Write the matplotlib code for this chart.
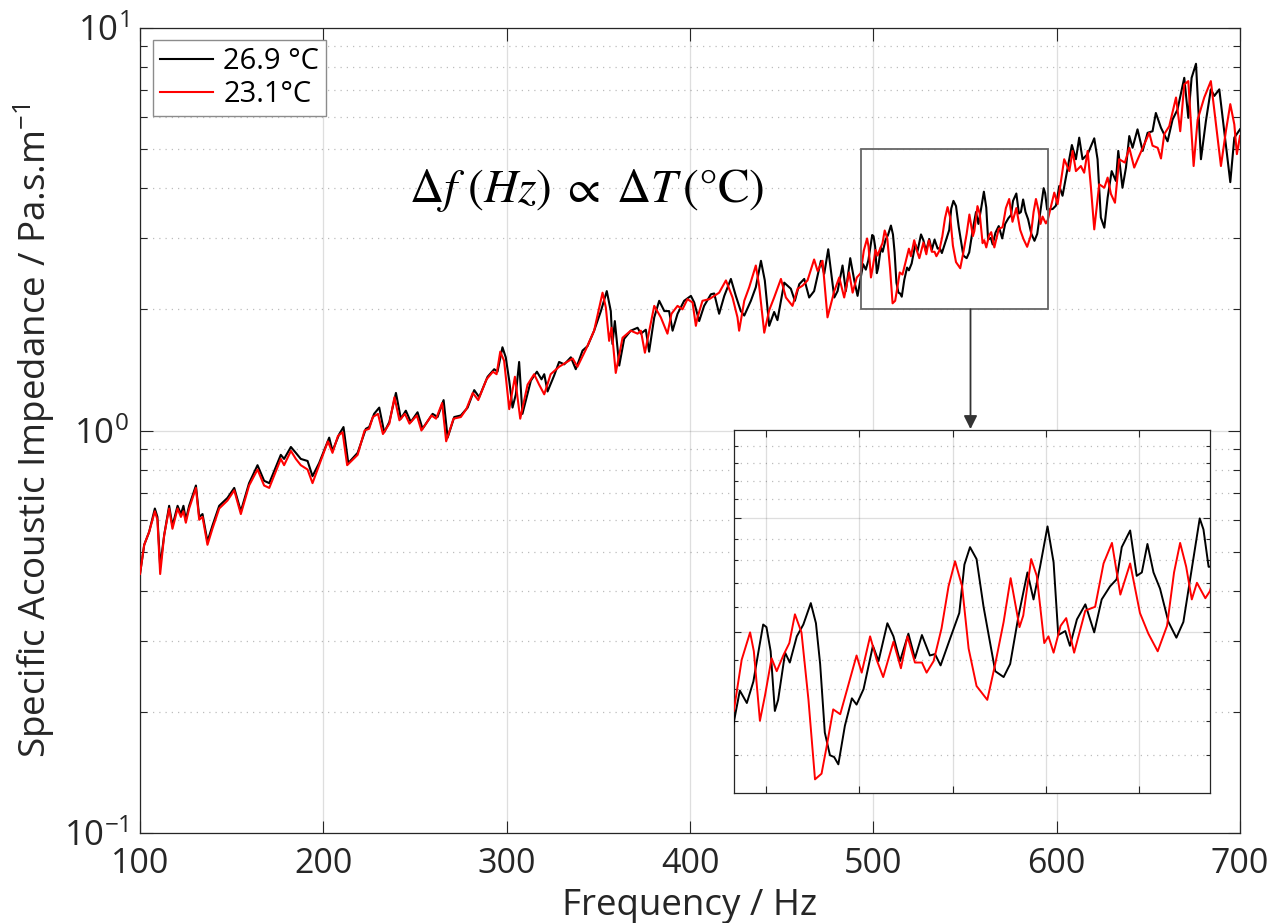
import matplotlib
matplotlib.use("Agg")
import matplotlib.pyplot as plt
from matplotlib.ticker import FixedLocator, NullFormatter, FixedFormatter
from matplotlib.patches import Rectangle

plt.rcParams['font.family'] = ['Open Sans', 'DejaVu Sans']
plt.rcParams['mathtext.fontset'] = 'custom'
plt.rcParams['mathtext.rm'] = 'Open Sans'
plt.rcParams['mathtext.it'] = 'Open Sans:italic'
plt.rcParams['mathtext.bf'] = 'Open Sans:bold'

# ---------------- data ----------------
freq_black = [100, 102.3, 105, 108.1, 109.5, 111, 113.2, 115.9, 117.7, 120.5, 122.3, 123.7, 125, 126.8,
              130.5, 132.3, 134.1, 136.8, 139.5, 143.2, 147.7, 151.4, 155, 159.5, 164.1, 167.7, 170.5,
              176.8, 178.6, 182.3, 185, 187.7, 191.4, 194.1, 197.7,
              203.2, 205, 208.7, 211, 213.6, 218.7, 223.2, 225, 227.7, 230.5, 233.2, 236, 239.6, 242.3,
              245, 247.7, 251.4, 254.1, 259.6, 262.3, 265.6, 267.8, 271.4, 275, 278.7, 282.3, 285,
              289.6, 293.2, 295,
              297.7, 299.5, 301.4, 303.2, 305, 306.8, 308.6, 313.2, 316.5, 319, 320.5, 322.3, 325.9,
              328.6, 331.4, 335, 337.7, 341.4, 344.1, 347.7, 351.4, 354.6, 356.8, 357.7, 359, 361.4,
              364.1, 367.7, 371.4, 373.2, 375.9, 377.7, 380.5, 383.2, 386, 388.6, 390.5, 393.2,
              396.8, 400.5, 402.3, 405, 407.7, 411.4, 413.2, 415.9, 418.7, 422.3, 425, 427.7, 429.6,
              433.2, 435.9, 438.7, 440.8, 443.2, 445.9, 447.7, 451.4, 455, 457.2, 459.6, 462.3, 465,
              467.7, 471.4, 473.2, 475.4, 478.7, 480.5, 483.2, 485, 487.4, 489.6, 491.4,
              493.1, 494.4, 495.9, 497.3, 498.4, 499.4, 500.1, 501.0, 501.9, 502.6, 504.1, 505.1,
              506.6, 508.0, 509.6, 510.7, 511.6, 512.6, 513.7, 514.6, 515.5, 516.9, 518.4, 519.4,
              520.9, 522.9, 524.1, 526.0, 527.3, 528.7, 530.5, 531.9, 533.4, 535.1, 536.2, 537.4,
              539.4, 541.4, 542.5, 543.7, 545.1, 546.6, 547.6, 549.1, 550.9, 552.3, 554.1, 556.0,
              557.3, 558.7, 560.3, 561.6, 562.6, 564.1, 565.1, 566.6, 568.4, 570.3, 571.9, 573.7,
              575.1, 576.2, 578.0, 579.4, 580.5, 581.7, 583.0, 584.4, 586.2, 587.9, 589.4, 591.2,
              592.9, 593.7, 594.8,
              597.8, 599.6, 601.4, 603.2, 606.0, 608.3, 610.5, 612.3, 614.1, 616.9, 620.5, 622.3,
              624.1, 626.0, 627.8, 630.0, 632.3, 633.6, 635.9, 637.8, 639.6, 641.4, 644.1, 646.9,
              649.6, 652.3, 654.1, 656.9, 660.5, 663.2, 665.9, 669.6, 671.8, 673.6, 676.0, 678.7,
              681.4, 684.1, 686.0, 688.7, 691.4, 694.7, 696.9, 700.0]
imp_black = [0.44, 0.52, 0.56, 0.64, 0.61, 0.46, 0.55, 0.65, 0.58, 0.65, 0.62, 0.65, 0.60, 0.65,
             0.73, 0.61, 0.62, 0.53, 0.58, 0.65, 0.68, 0.72, 0.63, 0.74, 0.82, 0.75, 0.74,
             0.87, 0.85, 0.91, 0.88, 0.85, 0.84, 0.77, 0.83,
             0.96, 0.89, 0.98, 1.02, 0.83, 0.88, 1.01, 1.02, 1.10, 1.14, 0.99, 1.05, 1.24, 1.07,
             1.12, 1.05, 1.11, 1.01, 1.10, 1.08, 1.19, 0.96, 1.08, 1.09, 1.14, 1.26, 1.21,
             1.36, 1.42, 1.40,
             1.61, 1.52, 1.33, 1.14, 1.23, 1.48, 1.10, 1.33, 1.40, 1.34, 1.38, 1.25, 1.37,
             1.48, 1.46, 1.52, 1.42, 1.58, 1.62, 1.77, 1.98, 2.22, 1.98, 1.64, 1.87, 1.45,
             1.69, 1.77, 1.80, 1.74, 1.78, 1.57, 1.91, 2.10, 1.98, 1.98, 1.77, 1.95,
             2.10, 2.16, 2.08, 1.87, 2.04, 2.18, 2.19, 1.95, 2.16, 2.38, 2.16, 1.98, 1.93,
             2.10, 2.27, 2.64, 2.36, 1.82, 1.97, 1.88, 2.33, 2.25, 2.10, 2.31, 2.38, 2.14,
             2.22, 2.64, 2.45, 2.82, 2.14, 2.22, 2.57, 2.22, 2.68, 2.36, 2.16,
             2.39, 2.59, 2.51, 2.65, 2.86, 3.06, 3.04, 2.86, 2.46, 2.53, 2.85, 2.78,
             2.97, 3.06, 3.23, 3.07, 2.77, 2.33, 2.20, 2.19, 2.15, 2.37, 2.54, 2.50,
             2.60, 2.90, 2.79, 3.07, 2.97, 2.79, 2.99, 2.81, 2.98, 2.83, 2.84, 2.76,
             2.95, 3.15, 3.56, 3.72, 3.61, 3.20, 3.00, 2.72, 2.68, 2.77, 3.13, 3.49,
             3.26, 3.54, 3.92, 3.58, 2.98, 3.01, 2.90, 3.10, 3.22, 3.00, 3.26, 3.37,
             3.43, 3.72, 3.88, 3.46, 3.49, 3.75, 3.49, 3.35, 3.08, 2.96, 3.08, 3.52,
             4.00, 3.89, 3.54,
             3.55, 3.62, 4.05, 3.83, 4.50, 5.12, 4.72, 5.34, 4.72, 4.86, 5.32, 4.72,
             3.38, 3.19, 3.79, 4.41, 4.17, 4.95, 4.01, 4.50, 5.39, 5.04, 5.60, 4.95,
             5.49, 5.54, 6.15, 5.65, 5.23, 5.92, 6.27, 7.52, 5.98, 7.52, 8.15, 4.72,
             5.87, 7.04, 6.78, 7.04, 5.54, 4.14, 5.34, 5.60]

freq_red = [100, 102.3, 105, 108.1, 109.5, 111, 113.2, 115.9, 117.7, 120.5, 122.3, 123.7, 125, 126.8,
            130.5, 132.3, 134.1, 136.8, 139.5, 143.2, 147.7, 151.4, 155, 159.5, 164.1, 167.7, 170.5,
            176.8, 178.6, 182.3, 185, 187.7, 191.4, 194.1, 197.7,
            202.5, 205, 208, 210.5, 213, 218.7, 222.5, 225, 227, 229.8, 232.5, 236, 238.8, 241.5,
            244.5, 247, 251, 253.5, 259, 261.5, 264.8, 267, 271, 275, 278, 281.5, 284.5, 289,
            292.5, 294.5,
            296.5, 298.6, 301.4, 304.5, 307.4, 311.4, 315.0, 317.7, 320.5, 324.0, 328.6, 336.0,
            338.6, 343.2, 347.7, 352.3, 354.1, 355.9, 357.2, 359.5, 363.2, 367.7, 371.4, 373.2,
            375.4, 380.5, 384.1, 387.7, 389.9, 393.2, 395.9, 398.6, 401.4, 403.2,
            404.1, 406.8, 410.5, 413.2, 415.9, 419.6, 423.2, 425.9, 426.8, 429.6, 432.3, 435.9,
            437.7, 440.5, 443.2, 445.9, 449.6, 452.3, 455.9, 458.7, 461.4, 464.1, 467.7, 469.6,
            472.3, 475.0, 478.7, 481.4, 484.1, 486.8, 488.7, 491.0,
            493.1, 494.8, 496.6, 497.4, 498.7, 499.8, 501.2, 502.3, 503.7, 505.0, 506.2, 507.6,
            509.1, 510.5, 511.9, 513.0, 514.4, 515.9, 517.3, 519.4, 520.5, 522.3, 523.7, 525.1,
            527.3, 528.9, 530.3, 531.9, 533.4, 534.4, 535.9, 537.6, 539.1, 540.5, 542.0, 543.4,
            545.1, 547.4, 549.1, 550.9, 552.4, 554.3, 555.1, 556.8, 558.0, 559.6, 560.5, 561.6,
            563.1, 564.3, 566.0, 568.4, 570.5, 572.3, 574.1, 575.9, 578.0, 580.1, 581.9, 583.9,
            585.9, 587.4, 588.7, 590.0, 591.2, 592.3, 594.1, 595.1,
            598.7, 600.5, 604.1, 606.9, 608.7, 610.5, 613.2, 615.0, 616.9, 618.7, 620.5, 623.2,
            626.0, 627.8, 629.6, 631.8, 634.1, 637.2, 639.6, 642.3, 645.0, 647.8, 650.5, 652.3,
            655.1, 656.9, 658.7, 661.4, 665.1, 667.4, 669.6, 671.8, 674.7, 676.9, 680.5, 684.1,
            686.9, 689.6, 692.3, 694.7, 696.9, 698.3, 700.0]
imp_red = [0.44, 0.52, 0.56, 0.63, 0.60, 0.44, 0.55, 0.64, 0.57, 0.64, 0.61, 0.63, 0.59, 0.64,
           0.72, 0.60, 0.61, 0.52, 0.57, 0.64, 0.67, 0.71, 0.62, 0.73, 0.80, 0.73, 0.72,
           0.85, 0.82, 0.89, 0.85, 0.82, 0.80, 0.74, 0.82,
           0.94, 0.88, 0.97, 0.99, 0.82, 0.87, 1.00, 1.01, 1.08, 1.10, 0.98, 1.04, 1.21, 1.06,
           1.10, 1.04, 1.09, 1.00, 1.09, 1.07, 1.17, 0.94, 1.07, 1.08, 1.13, 1.24, 1.19, 1.34,
           1.40, 1.38,
           1.57, 1.49, 1.13, 1.36, 1.07, 1.30, 1.38, 1.30, 1.23, 1.38, 1.44, 1.51,
           1.44, 1.59, 1.77, 2.20, 2.02, 1.67, 1.80, 1.39, 1.70, 1.77, 1.74, 1.77,
           1.56, 2.04, 1.91, 1.74, 1.95, 2.04, 2.00, 2.12, 2.08, 1.82,
           1.91, 2.10, 2.12, 2.16, 2.20, 2.36, 2.14, 1.91, 1.77, 2.10, 2.27, 2.57,
           2.29, 1.75, 1.99, 2.14, 2.38, 2.14, 2.04, 2.25, 2.29, 2.36, 2.66, 2.49,
           2.64, 1.91, 2.22, 2.40, 2.14, 2.47, 2.20, 2.40,
           2.46, 2.80, 3.00, 2.86, 2.40, 2.56, 2.81, 2.72, 2.83, 2.92, 3.14, 3.00,
           2.53, 2.07, 2.10, 2.25, 2.47, 2.44, 2.59, 2.83, 2.71, 2.97, 2.80, 2.68,
           2.93, 2.74, 2.97, 2.78, 2.78, 2.71, 2.79, 3.03, 3.37, 3.59, 3.37, 2.88,
           2.62, 2.53, 2.77, 3.08, 3.44, 3.04, 3.13, 3.61, 3.46, 2.92, 2.97, 2.85,
           3.05, 3.11, 2.85, 3.17, 3.20, 3.57, 3.76, 3.30, 3.57, 3.15, 2.99, 2.86,
           3.05, 3.49, 3.76, 3.54, 3.26, 3.40, 3.27, 3.33,
           3.90, 3.65, 4.72, 4.41, 4.95, 4.41, 4.54, 4.37, 4.95, 4.01, 3.16, 4.09,
           4.01, 4.25, 3.87, 3.68, 4.72, 4.63, 5.04, 4.50, 4.81, 5.14, 5.49, 5.10,
           5.04, 4.74, 5.45, 5.70, 6.72, 5.54, 7.24, 7.38, 4.54, 5.92, 6.72, 7.38,
           5.76, 4.54, 5.54, 6.47, 5.76, 4.86, 5.39]

series_labels = ['26.9 °C', '23.1°C']
x_ticks = [100, 200, 300, 400, 500, 600, 700]
y_ticks = [0.1, 1, 10]
y_ticklabels = [r'$10^{-1}$', r'$10^{0}$', r'$10^{1}$']
zoom_x = [493.15, 595.1]
zoom_y = [2.0, 5.0]
inset_xgrid = [500, 520, 540, 560, 580]
inset_ymajor = [3, 4]
inset_yminor = [2.2, 2.4, 2.6, 2.8, 3.2, 3.4, 3.6, 3.8, 4.2, 4.4, 4.6, 4.8]
arrow_x = 553
annotation = r'$\Delta f\ (Hz)\;\propto\;\Delta T\,(\degree\mathrm{C})$'

# ---------------- figure ----------------
AX_COL = '#262626'
W, H = 1274, 923
fig = plt.figure(figsize=(W / 100, H / 100), dpi=100)
fig.patch.set_facecolor('white')

ax = fig.add_axes([140 / W, 1 - 833 / H, 1100 / W, 805 / H])
ax.plot(freq_black, imp_black, color='black', lw=1.5, label=series_labels[0], zorder=3)
ax.plot(freq_red, imp_red, color='#ff0000', lw=1.5, label=series_labels[1], zorder=3)
ax.set_yscale('log')
ax.set_xlim(100, 700)
ax.set_ylim(0.1, 10)
ax.set_xticks(x_ticks)
ax.yaxis.set_major_locator(FixedLocator(y_ticks))
ax.yaxis.set_major_formatter(FixedFormatter(y_ticklabels))
minor = [m * d for d in (0.1, 1) for m in range(2, 10)]
ax.yaxis.set_minor_locator(FixedLocator(minor))
ax.yaxis.set_minor_formatter(NullFormatter())
ax.tick_params(which='both', direction='in', top=True, right=True, colors=AX_COL)
ax.tick_params(axis='x', labelsize=24.5, pad=10)
ax.tick_params(axis='y', labelsize=25, pad=8)
ax.tick_params(which='major', length=9, width=0.8)
ax.tick_params(which='minor', length=5, width=0.8)
for s in ax.spines.values():
    s.set_color(AX_COL)
    s.set_linewidth(0.9)
ax.grid(True, which='major', color=AX_COL, alpha=0.15, lw=0.9)
ax.grid(True, which='minor', axis='y', color=AX_COL, alpha=0.3, lw=0.9, linestyle=(0, (1, 4)))
ax.set_xlabel('Frequency / Hz', fontsize=26.5, color=AX_COL, labelpad=5)
ax.set_ylabel(r'Specific Acoustic Impedance / Pa.s.m$^{-1}$', fontsize=26.5, color=AX_COL,
              labelpad=5)

leg = ax.legend(loc='upper left', bbox_to_anchor=(0.012, 0.985), borderaxespad=0,
                fontsize=21, handlelength=1.8, handletextpad=0.35, labelspacing=0.12,
                borderpad=0.25, fancybox=False, framealpha=1, edgecolor='#8c8c8c')
leg.get_frame().set_linewidth(1.0)

# zoom rectangle and arrow
ax.add_patch(Rectangle((zoom_x[0], zoom_y[0]), zoom_x[1] - zoom_x[0], zoom_y[1] - zoom_y[0],
                       fill=False, edgecolor='#666666', lw=1.3, zorder=4))
ax.annotate('', xy=(arrow_x, 1.0), xytext=(arrow_x, zoom_y[0]),
            arrowprops=dict(arrowstyle='-|>', color='#333333', lw=1.3, mutation_scale=20,
                            shrinkA=0, shrinkB=1), zorder=5)

fig.text(587 / W, 1 - 190 / H, annotation, fontsize=34, math_fontfamily='stix',
         ha='center', va='center', color='black')

# ---------------- inset ----------------
axi = fig.add_axes([734 / W, 1 - 793 / H, 476 / W, 363 / H])
axi.plot(freq_black, imp_black, color='black', lw=1.4, zorder=3)
axi.plot(freq_red, imp_red, color='#ff0000', lw=1.4, zorder=3)
axi.set_yscale('log')
axi.set_xlim(*zoom_x)
axi.set_ylim(*zoom_y)
axi.set_xticks(inset_xgrid)
axi.yaxis.set_major_locator(FixedLocator(inset_ymajor))
axi.yaxis.set_minor_locator(FixedLocator(inset_yminor))
axi.yaxis.set_major_formatter(NullFormatter())
axi.yaxis.set_minor_formatter(NullFormatter())
axi.xaxis.set_major_formatter(NullFormatter())
axi.tick_params(which='both', direction='in', top=True, right=True, colors=AX_COL)
axi.tick_params(which='major', length=5, width=0.8)
axi.tick_params(which='minor', length=3, width=0.8)
for s in axi.spines.values():
    s.set_color(AX_COL)
    s.set_linewidth(0.9)
axi.grid(True, which='major', color=AX_COL, alpha=0.15, lw=0.9)
axi.grid(True, which='minor', axis='y', color=AX_COL, alpha=0.3, lw=0.9, linestyle=(0, (1, 4)))
axi.set_facecolor('white')

fig.savefig('out.png', dpi=100)
